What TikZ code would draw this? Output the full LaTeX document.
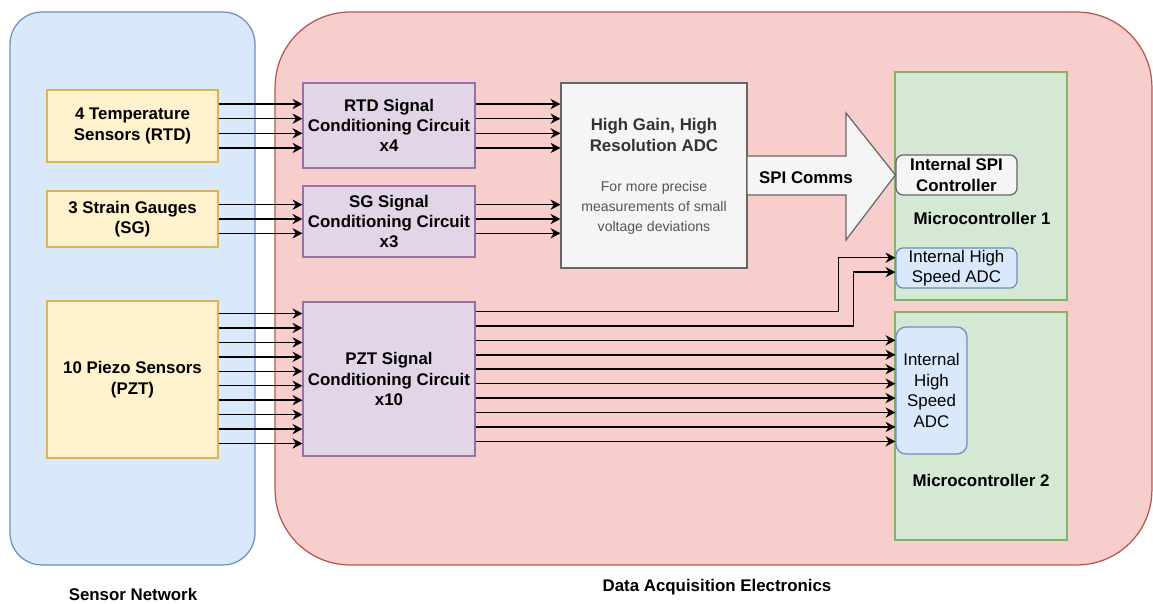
\documentclass[tikz,border=0pt]{standalone}
\usepackage{fontspec}
\setmainfont{Liberation Sans}
\usetikzlibrary{arrows.meta, calc}
\definecolor{bluefill}{HTML}{DAE8FC}
\definecolor{bluedraw}{HTML}{6C8EBF}
\definecolor{redfill}{HTML}{F8CECC}
\definecolor{reddraw}{HTML}{B85450}
\definecolor{yellowfill}{HTML}{FFF2CC}
\definecolor{yellowdraw}{HTML}{D6B656}
\definecolor{purplefill}{HTML}{E1D5E7}
\definecolor{purpledraw}{HTML}{9673A6}
\definecolor{greenfill}{HTML}{D5E8D4}
\definecolor{greendraw}{HTML}{82B366}
\definecolor{grayfill}{HTML}{F5F5F5}
\definecolor{graydraw}{HTML}{666666}
\definecolor{titlegray}{HTML}{333333}
\definecolor{descgray}{HTML}{555555}
\tikzset{
    >={Stealth[length=5.6pt, width=5.8pt, inset=1.8pt]}, % draw.io style heads
    every node/.style={font=\fontsize{9.6}{11.6}\selectfont\bfseries, align=center, inner sep=0pt},
    group/.style={line width=0.7pt}, % the two big containers
    sensbox/.style={draw=yellowdraw, fill=yellowfill, line width=0.7pt, minimum width=3.42cm},
    condbox/.style={draw=purpledraw, fill=purplefill, line width=0.7pt, minimum width=3.44cm},
    mcbox/.style={draw=greendraw, fill=greenfill, line width=0.7pt, minimum width=3.44cm, minimum height=4.56cm},
    ctlbox/.style={draw=graydraw, fill=grayfill, line width=0.7pt, rounded corners=0.14cm, minimum width=2.42cm, minimum height=0.8cm},
    adcbox/.style={draw=bluedraw, fill=bluefill, line width=0.7pt, rounded corners=0.14cm, font=\fontsize{9.6}{11.6}\selectfont},
    wire/.style={->, line width=0.85pt}, % signal lines
}
\begin{document}
\begin{tikzpicture}[x=0.02cm, y=-0.02cm]
\useasboundingbox (0,0) rectangle (1153,604);

% containers
\node[group, draw=reddraw, fill=redfill, rounded corners=1.5cm, minimum width=17.54cm, minimum height=11.06cm] (daq) at (713.5,288.5) {};
\node[group, draw=bluedraw, fill=bluefill, rounded corners=0.64cm, minimum width=4.9cm, minimum height=11.06cm] (sensnet) at (132.5,288.5) {};
\node (sensnetlabel) at (133,594) {Sensor Network};
\node (daqlabel) at (717,587) {Data Acquisition Electronics};

% sensors
\node[sensbox, minimum height=1.44cm] (rtd) at (132.5,126) {4 Temperature\\Sensors (RTD)};
\node[sensbox, minimum height=1.12cm] (sg) at (132.5,219) {3 Strain Gauges\\(SG)};
\node[sensbox, minimum height=3.14cm] (pzt) at (132.5,379.5) {10 Piezo Sensors\\(PZT)};

% signal conditioning
\node[condbox, minimum height=1.7cm] (rtdsc) at (389,125.5) {RTD Signal\\Conditioning Circuit\\x4};
\node[condbox, minimum height=1.42cm] (sgsc) at (389,221.5) {SG Signal\\Conditioning Circuit\\x3};
\node[condbox, minimum height=3.08cm] (pztsc) at (389,379) {PZT Signal\\Conditioning Circuit\\x10};

% external adc
\node[draw=graydraw, fill=grayfill, line width=0.7pt, minimum width=3.72cm, minimum height=3.7cm] (adc) at (654,175.5) {};
\node[text=titlegray] (adctitle) at (654,135) {High Gain, High\\Resolution ADC};
\node[font=\fontsize{8}{11.3}\selectfont, text=descgray] (adcdesc) at (654,208) {For more precise\\measurements of small\\voltage deviations};

% microcontrollers
\node[mcbox] (mc1) at (981,186) {};
\node[mcbox] (mc2) at (981,426) {};
\node (mc1label) at (982,218) {Microcontroller 1};
\node (mc2label) at (981,480) {Microcontroller 2};
\node[ctlbox] (spictl) at (956.5,175) {Internal SPI\\Controller};
\node[adcbox, minimum width=2.42cm, minimum height=0.8cm] (adca) at (956.5,268) {Internal High\\Speed ADC};
\node[adcbox, rounded corners=0.2cm, minimum width=1.42cm, minimum height=2.54cm] (adcb) at (931.5,390.5) {Internal\\High\\Speed\\ADC};

% spi link
\draw[draw=graydraw, fill=grayfill, line width=0.7pt] (747,156) -- (846,156) -- (846,113) -- (spictl.west) -- (846,240) -- (846,195) -- (747,195) -- cycle;
\node (spilabel) at (806,178) {SPI Comms};

% rtd and sg lines
\foreach \f in {0.2,0.4,0.6,0.8} {
    \coordinate (p) at ($(rtd.north east)!\f!(rtd.south east)$);
    \draw[wire] (p) -- (p -| rtdsc.west);
    \draw[wire] (p -| rtdsc.east) -- (p -| adc.west);
}
\foreach \f in {0.25,0.5,0.75} {
    \coordinate (p) at ($(sg.north east)!\f!(sg.south east)$);
    \draw[wire] (p) -- (p -| sgsc.west);
    \draw[wire] (p -| sgsc.east) -- (p -| adc.west);
}

% pzt lines
\foreach \i in {0,...,9} {
    \pgfmathsetmacro{\f}{0.083+0.0913*\i}
    \coordinate (p) at ($(pzt.north east)!\f!(pzt.south east)$);
    \draw[wire] (p) -- (p -| pztsc.west);
}
\foreach \j in {2,...,9} {
    \pgfmathsetmacro{\f}{0.065+0.093*\j}
    \coordinate (q) at ($(pztsc.north east)!\f!(pztsc.south east)$);
    \draw[wire] (q) -- (q -| adcb.west);
}
\coordinate (q0) at ($(pztsc.north east)!0.065!(pztsc.south east)$);
\coordinate (q1) at ($(pztsc.north east)!0.158!(pztsc.south east)$);
\coordinate (ta) at ($(adca.north west)!0.25!(adca.south west)$);
\coordinate (tb) at ($(adca.north west)!0.6!(adca.south west)$);
\draw[wire] (q0) -| ($(ta)+(-57,0)$) -- (ta);
\draw[wire] (q1) -| ($(tb)+(-42,0)$) -- (tb);
\end{tikzpicture}
\end{document}
